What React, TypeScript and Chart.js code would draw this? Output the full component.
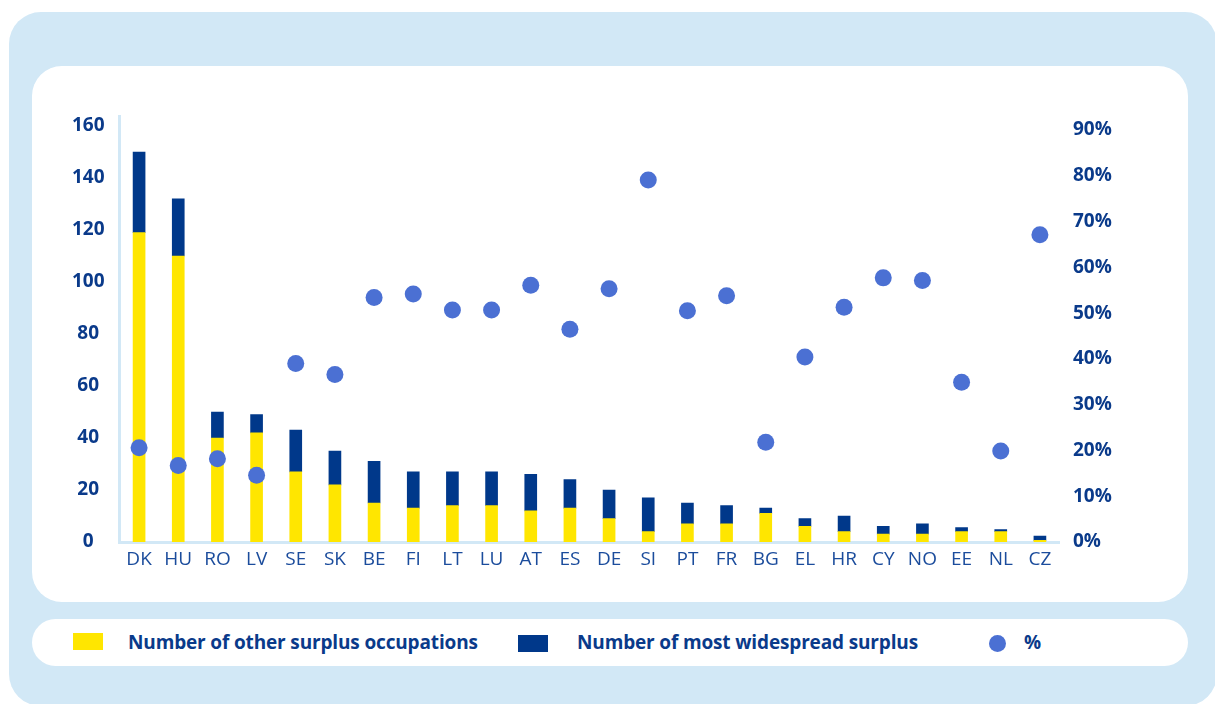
import React, { useEffect, useRef } from 'react';
import { Chart, registerables } from 'chart.js';

Chart.register(...registerables);

// ---- data ----
const countries = ['DK', 'HU', 'RO', 'LV', 'SE', 'SK', 'BE', 'FI', 'LT', 'LU', 'AT', 'ES', 'DE', 'SI', 'PT', 'FR', 'BG', 'EL', 'HR', 'CY', 'NO', 'EE', 'NL', 'CZ'];
const otherSurplus = [119, 110, 40, 42, 27, 22, 15, 13, 14, 14, 12, 13, 9, 4, 7, 7, 11, 6, 4, 3, 3, 4, 4, 0.6];
const widespreadSurplus = [31, 22, 10, 7, 16, 13, 16, 14, 13, 13, 14, 11, 11, 13, 8, 7, 2, 3, 6, 3, 4, 1.5, 0.8, 1.7];
const sharePct = [20.6, 16.7, 18.2, 14.6, 39.0, 36.6, 53.4, 54.2, 50.7, 50.7, 56.1, 46.5, 55.3, 79.1, 50.5, 53.8, 21.8, 40.4, 51.3, 57.7, 57.1, 34.9, 19.9, 67.1];
const countTicks = [0, 20, 40, 60, 80, 100, 120, 140, 160];
const pctTicks = [0, 10, 20, 30, 40, 50, 60, 70, 80, 90];
const legendLabels = ['Number of other surplus occupations', 'Number of most widespread surplus', '%'];

// ---- styles ----
const YELLOW = '#ffe600';
const NAVY = '#00388a';
const DOT = '#4b70d3';
const LIGHT = '#d2e8f6';
const TEXT = '#0a3a8a';
const XTEXT = '#1b4c9c';
const FONT = '"Open Sans", "Noto Sans", sans-serif';

export default function App() {
  const ref = useRef<HTMLCanvasElement>(null);

  useEffect(() => {
    if (!ref.current) return;
    const chart = new Chart(ref.current, {
      type: 'bar',
      data: {
        labels: countries,
        datasets: [
          {
            type: 'line',
            label: legendLabels[2],
            data: sharePct,
            yAxisID: 'y1',
            showLine: false,
            pointRadius: 8.5,
            pointHoverRadius: 8.5,
            pointBackgroundColor: DOT,
            pointBorderWidth: 0,
            borderColor: DOT,
            backgroundColor: DOT,
            order: 0,
          },
          {
            type: 'bar',
            label: legendLabels[0],
            data: otherSurplus,
            backgroundColor: YELLOW,
            yAxisID: 'y',
            barThickness: 12,
            order: 1,
          },
          {
            type: 'bar',
            label: legendLabels[1],
            data: widespreadSurplus,
            backgroundColor: NAVY,
            yAxisID: 'y',
            barThickness: 12,
            order: 2,
          },
        ],
      },
      options: {
        responsive: false,
        animation: false,
        layout: { padding: { top: 50, left: 0, right: 0, bottom: 0 } },
        plugins: { legend: { display: false }, tooltip: { enabled: false } },
        scales: {
          x: {
            stacked: true,
            grid: { display: false, drawTicks: false },
            border: { display: true, color: LIGHT, width: 3 },
            ticks: {
              color: XTEXT,
              font: { family: FONT, size: 19, weight: 'normal' },
              padding: 6,
              maxRotation: 0,
              autoSkip: false,
            },
            afterFit: (s: any) => { s.height = 60; },
          },
          y: {
            stacked: true,
            position: 'left',
            min: 0,
            max: 163.85,
            grid: { display: false, drawTicks: false },
            border: { display: true, color: LIGHT, width: 3 },
            afterBuildTicks: (s: any) => { s.ticks = countTicks.map((v) => ({ value: v })); },
            ticks: {
              color: TEXT,
              font: { family: FONT, size: 19, weight: 'bold' },
              padding: 15,
              crossAlign: 'center',
              callback: (v: any) => String(v),
            },
            afterFit: (s: any) => { s.width = 87.5; },
          },
          y1: {
            position: 'right',
            min: 0,
            max: 93.06,
            grid: { display: false, drawTicks: false },
            border: { display: false },
            afterBuildTicks: (s: any) => { s.ticks = pctTicks.map((v) => ({ value: v })); },
            ticks: {
              color: TEXT,
              font: { family: FONT, size: 19, weight: 'bold' },
              padding: 13.5,
              callback: (v: any) => v + '%',
            },
            afterFit: (s: any) => { s.width = 128.5; },
          },
        },
      },
    } as any);
    return () => chart.destroy();
  }, []);

  const legendText: React.CSSProperties = {
    position: 'absolute',
    top: 631,
    height: 22,
    lineHeight: '22px',
    fontSize: 19,
    fontWeight: 700,
    letterSpacing: '-0.15px',
    color: TEXT,
    whiteSpace: 'nowrap',
    fontFamily: FONT,
  };

  return (
    <div style={{ position: 'fixed', left: 0, top: 0, width: 1215, height: 704, background: '#ffffff', overflow: 'hidden', fontFamily: FONT }}>
      <div style={{ position: 'absolute', left: 9, top: 12, width: 1208, height: 694, background: LIGHT, borderRadius: 32 }} />
      <div style={{ position: 'absolute', left: 32, top: 66, width: 1156, height: 536, background: '#ffffff', borderRadius: 30 }} />
      <canvas ref={ref} width={1156} height={536} style={{ position: 'absolute', left: 32, top: 66, width: 1156, height: 536 }} />
      <div style={{ position: 'absolute', left: 32, top: 619, width: 1156, height: 47, background: '#ffffff', borderRadius: 24 }} />
      <div style={{ position: 'absolute', left: 73, top: 633, width: 30, height: 17, background: YELLOW }} />
      <div style={{ ...legendText, left: 128 }}>{legendLabels[0]}</div>
      <div style={{ position: 'absolute', left: 518, top: 635, width: 30, height: 17, background: NAVY }} />
      <div style={{ ...legendText, left: 577 }}>{legendLabels[1]}</div>
      <div style={{ position: 'absolute', left: 988.5, top: 634.5, width: 17, height: 17, borderRadius: '50%', background: DOT }} />
      <div style={{ ...legendText, left: 1024 }}>{legendLabels[2]}</div>
    </div>
  );
}
